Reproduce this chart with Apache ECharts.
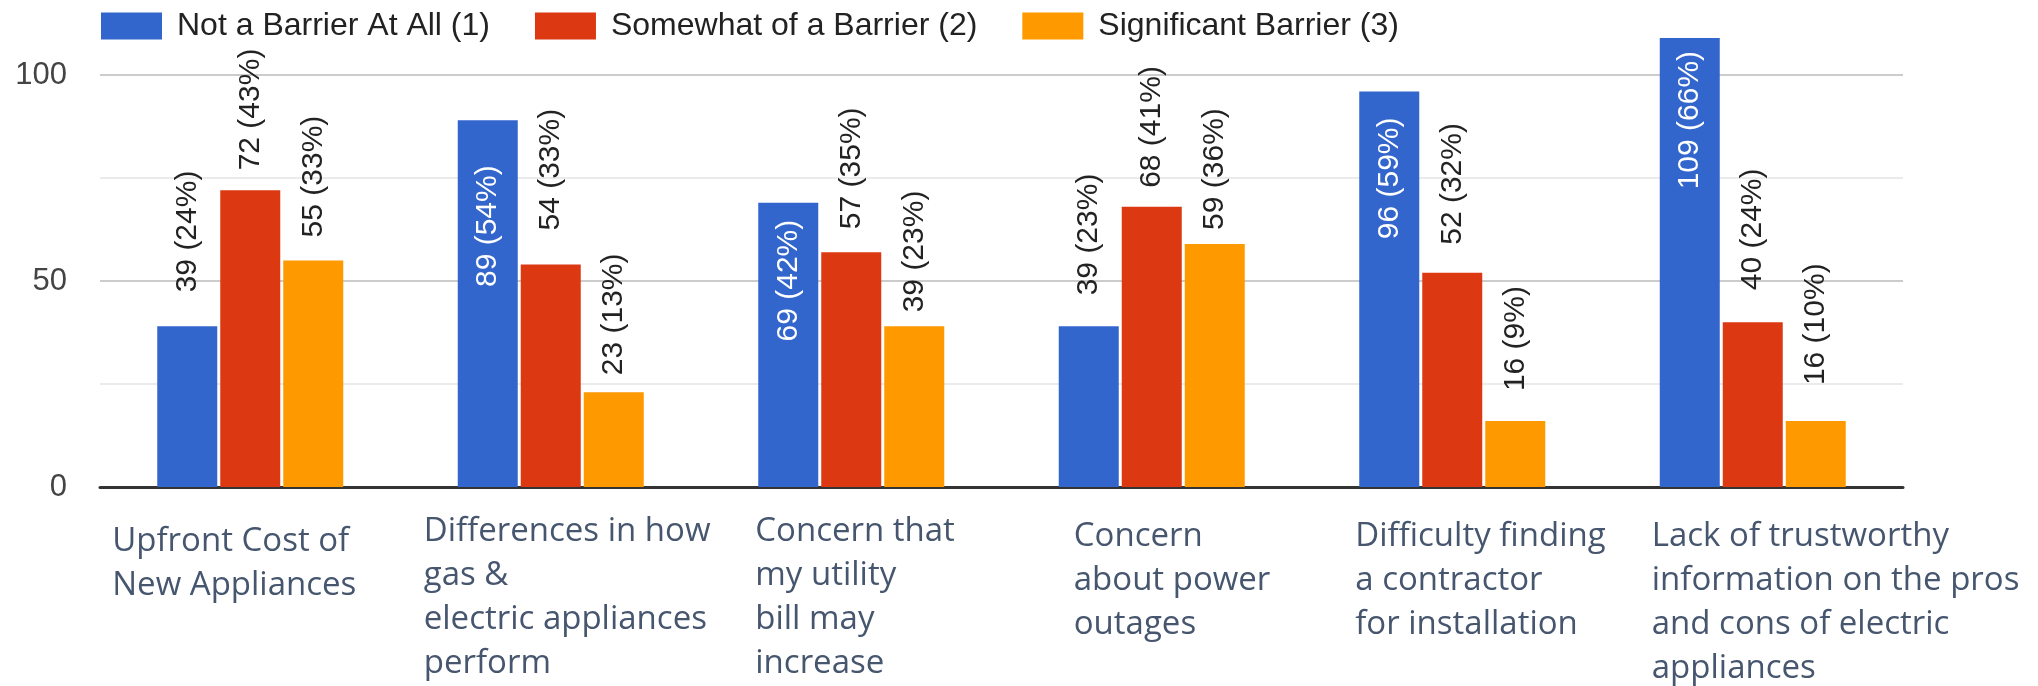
<!DOCTYPE html>
<html><head><meta charset="utf-8">
<script src="https://cdn.jsdelivr.net/npm/echarts@6/dist/echarts.min.js"></script>
<style>html,body{margin:0;padding:0;background:#fff}#c{width:2038px;height:686px}</style>
</head><body><div id="c"></div>
<script>
// ---- data ----
const categories = [
  'Upfront Cost of\nNew Appliances',
  'Differences in how\ngas &\nelectric appliances\nperform',
  'Concern that\nmy utility\nbill may\nincrease',
  'Concern\nabout power\noutages',
  'Difficulty finding\na contractor\nfor installation',
  'Lack of trustworthy\ninformation on the pros\nand cons of electric\nappliances'
];
const seriesNames = ['Not a Barrier At All (1)', 'Somewhat of a Barrier (2)', 'Significant Barrier (3)'];
const notBarrier = [39, 89, 69, 39, 96, 109];
const notBarrierPct = [24, 54, 42, 23, 59, 66];
const somewhat = [72, 54, 57, 68, 52, 40];
const somewhatPct = [43, 33, 35, 41, 32, 24];
const significant = [55, 23, 39, 59, 16, 16];
const significantPct = [33, 13, 23, 36, 9, 10];
const yTicks = [0, 50, 100];

// ---- layout / style config ----
const colors = ['#3366cc', '#dc3912', '#ff9900'];
const labelGaps = [
  [34, 45, 17, 31, 26, 13],
  [20, 34, 23, 19, 28, 32],
  [23, 17, 14, 14, 30, 36]
];
const insideSeries = [true, false, false];
const insideMin = 60;
const catLabelWidth = [276, 254, 192, 156, 194, 202];
const catLabelShift = [10, 0, 0, 5, 5, 5];
const FONT = "'Liberation Sans', Arial, sans-serif";
const CAT_FONT = "'Open Sans', sans-serif";

const rich = {};
catLabelWidth.forEach((w, i) => {
  rich['t' + i] = { width: w, align: 'left', fontSize: 33, lineHeight: 44, fontFamily: CAT_FONT, color: '#46566e' };
  rich['s' + i] = { width: w, fontSize: 1, lineHeight: Math.max(catLabelShift[i], 1) };
});

function makeSeries(k, vals, pcts) {
  return {
    name: seriesNames[k],
    type: 'bar',
    barWidth: 60,
    barGap: '5%',
    clip: false,
    itemStyle: { color: colors[k] },
    label: {
      show: true,
      rotate: 90,
      verticalAlign: 'middle',
      fontSize: 30,
      fontFamily: FONT,
      formatter: p => p.value + ' (' + pcts[p.dataIndex] + '%)'
    },
    data: vals.map((v, i) => {
      const inside = insideSeries[k] && v > insideMin;
      return {
        value: v,
        label: {
          position: inside ? 'insideTop' : 'top',
          distance: labelGaps[k][i],
          align: inside ? 'right' : 'left',
          color: inside ? '#ffffff' : '#222222'
        }
      };
    })
  };
}

const chart = echarts.init(document.getElementById('c'), null, { renderer: 'canvas' });
chart.setOption({
  animation: false,
  backgroundColor: '#ffffff',
  legend: {
    data: seriesNames,
    left: 96,
    top: 5,
    icon: 'rect',
    itemWidth: 61,
    itemHeight: 27,
    itemGap: 45,
    textStyle: { fontSize: 32, color: '#222222', fontFamily: FONT, padding: [0, 0, 0, 10] }
  },
  grid: { left: 100, right: 135, top: 75, bottom: 199, containLabel: false },
  xAxis: {
    type: 'category',
    data: categories,
    axisTick: { show: false },
    axisLine: { lineStyle: { color: '#333333', width: 3 } },
    axisLabel: {
      interval: 0,
      margin: 23,
      formatter: (v, i) => {
        const lines = v.split('\n').map(l => '{t' + i + '|' + l + '}');
        if (catLabelShift[i] > 0) lines.unshift('{s' + i + '| }');
        return lines.join('\n');
      },
      rich: rich
    }
  },
  yAxis: {
    type: 'value',
    min: yTicks[0],
    max: yTicks[yTicks.length - 1],
    interval: yTicks[1] - yTicks[0],
    axisLine: { show: false },
    axisTick: { show: false },
    axisLabel: { fontSize: 31, color: '#444444', margin: 33, fontFamily: FONT },
    splitLine: { lineStyle: { color: '#cccccc', width: 2 } },
    minorTick: { show: false, splitNumber: 2 },
    minorSplitLine: { show: true, lineStyle: { color: '#ebebeb', width: 2 } }
  },
  series: [
    makeSeries(0, notBarrier, notBarrierPct),
    makeSeries(1, somewhat, somewhatPct),
    makeSeries(2, significant, significantPct)
  ]
});
</script>
</body></html>
